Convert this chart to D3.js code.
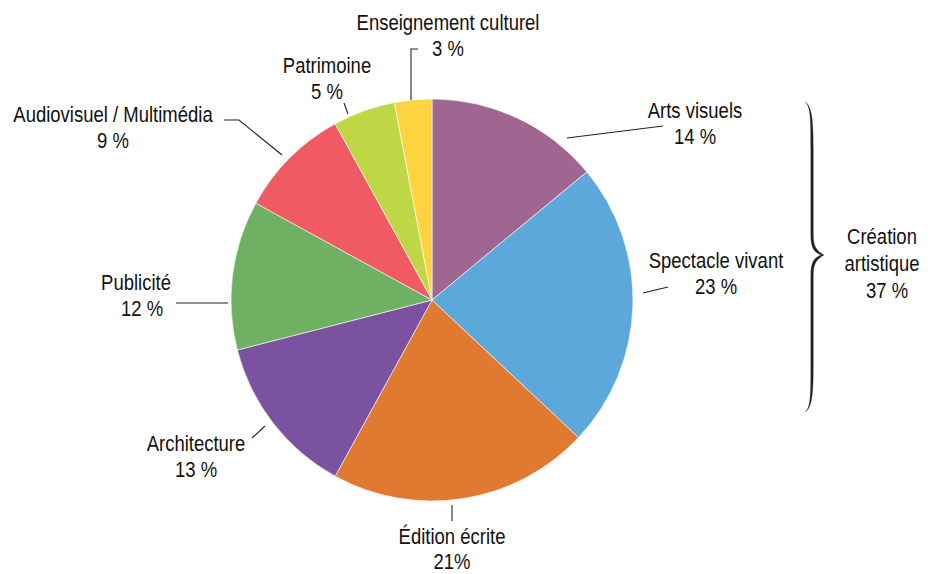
<!DOCTYPE html>
<html>
<head>
<meta charset="utf-8">
<script src="https://cdn.jsdelivr.net/npm/d3@7"></script>
<style>
  body { margin: 0; background: #fff; }
  svg text { font-family: "Liberation Sans", Arial, sans-serif; font-size: 21.5px; fill: #111; }
</style>
</head>
<body>
<div id="chart"></div>
<script>
var categories = ["Arts visuels", "Spectacle vivant", "Édition écrite", "Architecture",
                  "Publicité", "Audiovisuel / Multimédia", "Patrimoine", "Enseignement culturel"];
var values = [14, 23, 21, 13, 12, 9, 5, 3];
var valueLabels = ["14 %", "23 %", "21%", "13 %", "12 %", "9 %", "5 %", "3 %"];
var colors = ["#9e6690", "#5ca8db", "#e07a30", "#7b52a0", "#70b063", "#ef5a63", "#bfd645", "#fdd33f"];
var groupLabel = ["Création", "artistique", "37 %"];

// label layout: text centre + baseline, leader line points
var layout = [
  {x: 695, y: 118, line: [[567, 138], [663, 126]]},
  {x: 716, y: 268, line: [[643, 293], [668, 287]]},
  {x: 452, y: 544, gap: 25, line: [[452, 505], [452, 521]]},
  {x: 196, y: 451, line: [[252, 438], [265, 426]]},
  {x: 136, y: 290, dx2: 6, line: [[176, 303], [228, 303]]},
  {x: 113, y: 122, line: [[224, 120], [239, 120], [282, 155]]},
  {x: 327, y: 73, line: [[344, 103], [348, 114]]},
  {x: 448, y: 30, line: [[418, 49], [411, 49], [411, 100]]}
];

var width = 935, height = 574,
    cx = 432, cy = 300, radius = 201,
    squeeze = 0.86, lineGap = 26;

var svg = d3.select("#chart").append("svg")
    .attr("width", width)
    .attr("height", height);

var pie = d3.pie().sort(null).value(d => d.value);
var arc = d3.arc().innerRadius(0).outerRadius(radius);

var data = categories.map((c, i) => ({name: c, value: values[i], label: valueLabels[i], color: colors[i], pos: layout[i]}));

svg.append("g")
    .attr("transform", `translate(${cx}, ${cy})`)
    .selectAll("path")
    .data(pie(data))
    .enter().append("path")
    .attr("d", arc)
    .attr("fill", d => d.data.color)
    .attr("stroke", "#fff")
    .attr("stroke-width", 0.6);

var line = d3.line();
svg.append("g").selectAll("path")
    .data(data)
    .enter().append("path")
    .attr("d", d => line(d.pos.line))
    .attr("fill", "none")
    .attr("stroke", "#222")
    .attr("stroke-width", 1.1);

// condensed look: scale text horizontally
var labels = svg.append("g").selectAll("g")
    .data(data)
    .enter().append("g")
    .attr("transform", d => `translate(${d.pos.x}, ${d.pos.y}) scale(${squeeze}, 1)`)
    .append("text")
    .attr("text-anchor", "middle");
labels.append("tspan").attr("x", 0).text(d => d.name);
labels.append("tspan")
    .attr("x", d => (d.pos.dx2 || 0) / squeeze)
    .attr("dy", d => d.pos.gap || lineGap)
    .text(d => d.label);

// tapered brace for Création artistique
svg.append("path")
    .attr("d", "M805,102 C812,106 813.3,120 813.3,150 L813.3,235 C813.3,247 817,251 824,255 " +
               "C817,259 813.3,263 813.3,275 L813.3,365 C813.3,395 812,408 805,412 " +
               "C810.8,408 810.8,395 810.8,365 L810.8,275 C810.8,262 814,258 821,255 " +
               "C814,252 810.8,248 810.8,235 L810.8,150 C810.8,120 810.8,106 805,102 Z")
    .attr("fill", "#222")
    .attr("stroke", "#222")
    .attr("stroke-width", 0.3);

svg.append("g")
    .attr("transform", `translate(882, 244) scale(${squeeze}, 1)`)
    .append("text")
    .attr("text-anchor", "middle")
    .selectAll("tspan")
    .data(groupLabel)
    .enter().append("tspan")
    .attr("x", (d, i) => i === 2 ? 5 / squeeze : 0)
    .attr("dy", (d, i) => i === 0 ? 0 : 27)
    .text(d => d);
</script>
</body>
</html>
